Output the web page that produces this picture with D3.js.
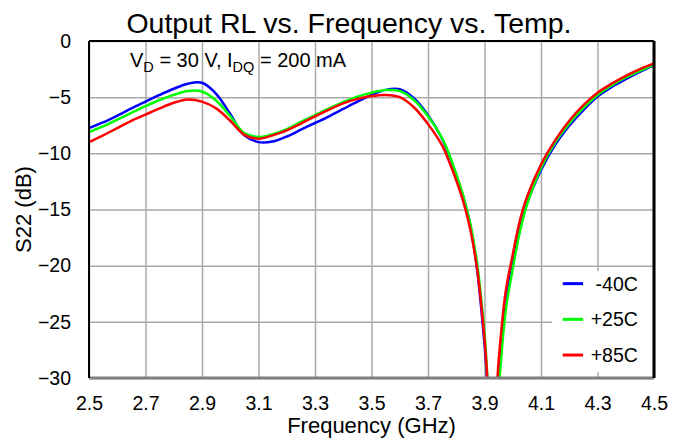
<!DOCTYPE html>
<html>
<head>
<meta charset="utf-8">
<script src="https://cdn.jsdelivr.net/npm/d3@7"></script>
<style>
  body { margin: 0; background: #fff; }
  svg { display: block; font-family: "Liberation Sans", Arial, sans-serif; }
</style>
</head>
<body>
<div id="chart"></div>
<script>
const freqs = [2.50, 2.55, 2.60, 2.65, 2.70, 2.75, 2.80, 2.85, 2.90, 2.95,
  3.00, 3.05, 3.10, 3.15, 3.20, 3.25, 3.30, 3.35, 3.40, 3.45,
  3.50, 3.55, 3.60, 3.65, 3.70, 3.75, 3.775, 3.80, 3.825, 3.85, 3.875,
  3.90, 3.93, 3.95, 3.975, 4.00, 4.025, 4.05, 4.10, 4.15, 4.20,
  4.25, 4.30, 4.35, 4.40, 4.45, 4.50];

const sM40 = [-7.75, -7.25, -6.65, -6.0, -5.4, -4.8, -4.25, -3.8, -3.72, -4.7,
  -6.5, -8.4, -9.0, -8.95, -8.5, -7.9, -7.3, -6.7, -6.05, -5.4,
  -4.8, -4.35, -4.3, -5.1, -6.6, -8.7, -10.2, -11.95, -13.9, -16.4, -20.6,
  -27.0, -36, -29.5, -23.3, -19.9, -16.8, -14.5, -11.5, -9.25, -7.55,
  -6.15, -4.95, -4.1, -3.4, -2.75, -2.15];

const sP25 = [-8.1, -7.6, -7.0, -6.4, -5.8, -5.25, -4.8, -4.45, -4.5, -5.3,
  -6.7, -8.2, -8.55, -8.3, -7.85, -7.2, -6.6, -6.0, -5.45, -4.95,
  -4.6, -4.37, -4.45, -5.25, -6.7, -8.65, -10.1, -11.85, -13.8, -16.3, -20.0,
  -26.0, -36, -31.0, -24.0, -20.3, -17.0, -14.6, -11.3, -9.05, -7.35,
  -5.95, -4.8, -3.95, -3.25, -2.65, -2.1];

const sP85 = [-9.0, -8.4, -7.75, -7.1, -6.55, -6.0, -5.5, -5.2, -5.4, -6.0,
  -7.1, -8.35, -8.7, -8.4, -7.95, -7.35, -6.7, -6.1, -5.55, -5.15,
  -4.9, -4.8, -5.0, -5.9, -7.4, -9.3, -10.75, -12.4, -14.3, -16.8, -20.5,
  -26.5, -36, -28.5, -22.3, -19.0, -16.0, -13.9, -11.0, -8.85, -7.1,
  -5.7, -4.6, -3.8, -3.1, -2.5, -2.0];

const seriesNames = ['-40C', '+25C', '+85C'];
const seriesColors = ['#0000ff', '#00ff00', '#ff0000'];
const xTicks = [2.5, 2.7, 2.9, 3.1, 3.3, 3.5, 3.7, 3.9, 4.1, 4.3, 4.5];
const yTicks = [0, -5, -10, -15, -20, -25, -30];

const width = 684, height = 441;
const margin = {top: 41, right: 30, bottom: 63, left: 89};
const plotW = width - margin.left - margin.right;
const plotH = height - margin.top - margin.bottom;
const gridColor = '#aaaaaa';
const fontFamily = '"Liberation Sans", Arial, sans-serif';

const svg = d3.select('#chart').append('svg')
  .attr('width', width)
  .attr('height', height);

const xScale = d3.scaleLinear().domain([2.5, 4.5]).range([0, plotW]);
const yScale = d3.scaleLinear().domain([-30, 0]).range([plotH, 0]);

svg.append('defs').append('clipPath')
  .attr('id', 'plot-clip')
  .append('rect')
  .attr('width', plotW)
  .attr('height', plotH);

const g = svg.append('g')
  .attr('transform', `translate(${margin.left},${margin.top})`);

// grid
const xGrid = g.append('g')
  .attr('transform', `translate(0,${plotH})`)
  .call(d3.axisBottom(xScale).tickValues(xTicks).tickSize(-plotH).tickFormat(''));
xGrid.select('.domain').remove();
xGrid.selectAll('line').attr('stroke', gridColor).attr('stroke-width', 1.5);

const yGrid = g.append('g')
  .call(d3.axisLeft(yScale).tickValues(yTicks).tickSize(-plotW).tickFormat(''));
yGrid.select('.domain').remove();
yGrid.selectAll('line').attr('stroke', gridColor).attr('stroke-width', 1.5);

// tick labels
const xAxis = g.append('g')
  .attr('transform', `translate(0,${plotH})`)
  .call(d3.axisBottom(xScale).tickValues(xTicks).tickSize(0).tickPadding(18).tickFormat(d3.format('.1f')));
xAxis.select('.domain').remove();
xAxis.selectAll('text').attr('font-size', 19.5).attr('fill', '#000').attr('font-family', fontFamily);

const yAxis = g.append('g')
  .call(d3.axisLeft(yScale).tickValues(yTicks).tickSize(0).tickPadding(18).tickFormat(d3.format('d')));
yAxis.select('.domain').remove();
yAxis.selectAll('text').attr('font-size', 19.5).attr('fill', '#000').attr('font-family', fontFamily);

// legend background (covers grid)
const legX = xScale(4.14), legY = yScale(-20.5);
g.append('rect')
  .attr('x', legX)
  .attr('y', legY)
  .attr('width', plotW - legX)
  .attr('height', yScale(-29.5) - legY)
  .attr('fill', '#fff');

// lines
const line = d3.line()
  .x((d, i) => xScale(freqs[i]))
  .y(d => yScale(d))
  .curve(d3.curveCatmullRom.alpha(0.5));

const plot = g.append('g').attr('clip-path', 'url(#plot-clip)');
[sM40, sP25, sP85].forEach((s, k) => {
  plot.append('path')
    .datum(s)
    .attr('fill', 'none')
    .attr('stroke', seriesColors[k])
    .attr('stroke-width', 2.5)
    .attr('stroke-linejoin', 'round')
    .attr('d', line);
});

// frame
g.append('line').attr('x1', 0).attr('x2', plotW).attr('y1', plotH).attr('y2', plotH)
  .attr('stroke', '#808080').attr('stroke-width', 3);
g.append('line').attr('x1', 0).attr('x2', plotW).attr('y1', 0).attr('y2', 0)
  .attr('stroke', '#000').attr('stroke-width', 2);
g.append('line').attr('x1', 0).attr('x2', 0).attr('y1', 0).attr('y2', plotH)
  .attr('stroke', '#000').attr('stroke-width', 2);
g.append('line').attr('x1', plotW).attr('x2', plotW).attr('y1', 0).attr('y2', plotH)
  .attr('stroke', '#000').attr('stroke-width', 3);

// legend
const legend = g.append('g');
seriesNames.forEach((name, k) => {
  const ly = yScale(-21.6) + k * 35.7;
  legend.append('line')
    .attr('x1', xScale(4.177)).attr('x2', xScale(4.249))
    .attr('y1', ly).attr('y2', ly)
    .attr('stroke', seriesColors[k]).attr('stroke-width', 3);
  legend.append('text')
    .attr('x', xScale(4.443))
    .attr('y', ly + 7)
    .attr('text-anchor', 'end')
    .attr('font-size', 19.5)
    .text(name);
});

// annotation
const ann = g.append('text')
  .attr('x', 41)
  .attr('y', 26)
  .attr('font-size', 20);
ann.append('tspan').text('V');
ann.append('tspan').attr('dy', 5).attr('font-size', 14.5).text('D');
ann.append('tspan').attr('dy', -5).text(' = 30 V, I');
ann.append('tspan').attr('dy', 5).attr('font-size', 14.5).text('DQ');
ann.append('tspan').attr('dy', -5).text(' = 200 mA');

// titles
svg.append('text')
  .attr('x', 349)
  .attr('y', 33)
  .attr('text-anchor', 'middle')
  .attr('font-size', 28.5)
  .text('Output RL vs. Frequency vs. Temp.');

svg.append('text')
  .attr('x', margin.left + plotW / 2)
  .attr('y', 433)
  .attr('text-anchor', 'middle')
  .attr('font-size', 22)
  .text('Frequency (GHz)');

svg.append('text')
  .attr('transform', `translate(31,${margin.top + plotH / 2}) rotate(-90)`)
  .attr('text-anchor', 'middle')
  .attr('font-size', 22)
  .text('S22 (dB)');
</script>
</body>
</html>
